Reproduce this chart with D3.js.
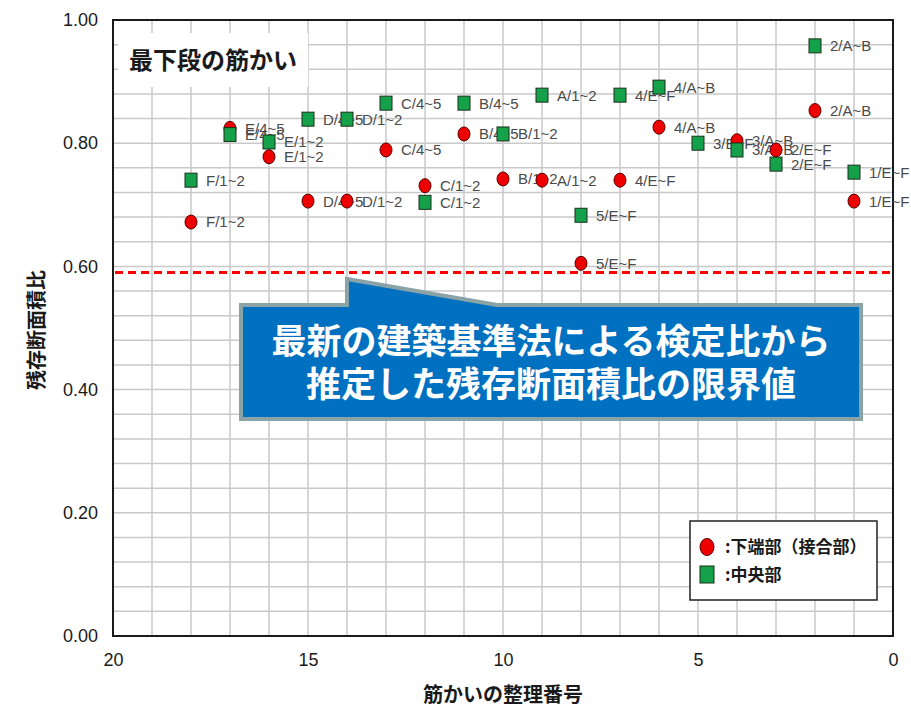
<!DOCTYPE html>
<html><head><meta charset="utf-8">
<script src="https://cdn.jsdelivr.net/npm/d3@7"></script>
<style>
html,body{margin:0;padding:0;background:#fff;}
svg{display:block;}
</style></head>
<body>
<svg id="chart" width="911" height="709"></svg>
<script>
// ---- data ----
const redX = [18,17,16,15,14,13,12,11,10,9,8,7,6,4,3,2,1];
const redValues = [0.672,0.824,0.778,0.706,0.706,0.789,0.731,0.815,0.742,0.740,0.605,0.740,0.826,0.804,0.789,0.853,0.706];
const redLabels = ["F/1~2","E/4~5","E/1~2","D/4~5","D/1~2","C/4~5","C/1~2","B/4~5","B/1~2","A/1~2","5/E~F","4/E~F","4/A~B","3/A~B","2/E~F","2/A~B","1/E~F"];
const greenX = [18,17,16,15,14,13,12,11,10,9,8,7,6,5,4,3,2,1];
const greenValues = [0.740,0.814,0.802,0.839,0.839,0.865,0.704,0.865,0.815,0.878,0.683,0.878,0.891,0.800,0.789,0.766,0.958,0.753];
const greenLabels = ["F/1~2","E/4~5","E/1~2","D/4~5","D/1~2","C/4~5","C/1~2","B/4~5","B/1~2","A/1~2","5/E~F","4/E~F","4/A~B","3/E~F","3/A~B","2/E~F","2/A~B","1/E~F"];
const yTicks = [0,0.2,0.4,0.6,0.8,1.0];
const xTicks = [20,15,10,5,0];
const limitValue = 0.59;
const titleText = "最下段の筋かい";
const xTitle = "筋かいの整理番号";
const yTitle = "残存断面積比";
const calloutLines = ["最新の建築基準法による検定比から","推定した残存断面積比の限界値"];
const legendLabels = [":下端部（接合部）",":中央部"];

// ---- layout ----
const svg = d3.select("#chart");
const L = 113, R = 893, T = 20, B = 636;
const x = d3.scaleLinear().domain([20,0]).range([L,R]);
const y = d3.scaleLinear().domain([0,1]).range([B,T]);
const cjk = "'Noto Sans CJK JP','Noto Sans CJK SC',sans-serif";
const latin = "'Liberation Sans',Arial,sans-serif";

// grid
const g = svg.append("g");
g.selectAll("line.v").data(d3.range(1,20)).join("line")
  .attr("x1",d=>x(d)).attr("x2",d=>x(d)).attr("y1",T).attr("y2",B)
  .attr("stroke","#c9c9c9").attr("stroke-width",1.5);
g.selectAll("line.h").data(d3.range(1,25).map(i=>i*0.04)).join("line")
  .attr("x1",L).attr("x2",R).attr("y1",d=>y(d)).attr("y2",d=>y(d))
  .attr("stroke","#c9c9c9").attr("stroke-width",1.5);

// title box
svg.append("rect").attr("x",118).attr("y",33).attr("width",190).attr("height",54).attr("fill","#fff");
svg.append("text").attr("x",129).attr("y",69).text(titleText)
  .attr("font-family",cjk).attr("font-weight",700).attr("font-size",24).attr("fill","#1a1a1a");

// frame
svg.append("rect").attr("x",L).attr("y",T).attr("width",R-L).attr("height",B-T)
  .attr("fill","none").attr("stroke","#1a1a1a").attr("stroke-width",2);

// axes
const yAxis = svg.append("g").attr("transform",`translate(${L},0)`)
  .call(d3.axisLeft(y).tickValues(yTicks).tickFormat(d3.format(".2f")).tickSize(0).tickPadding(15));
yAxis.select(".domain").remove();
yAxis.selectAll("text").attr("font-family",latin).attr("font-size",18).attr("fill","#1a1a1a");
const xAxis = svg.append("g").attr("transform",`translate(0,${B})`)
  .call(d3.axisBottom(x).tickValues(xTicks).tickFormat(d3.format("d")).tickSize(0).tickPadding(17));
xAxis.select(".domain").remove();
xAxis.selectAll("text").attr("font-family",latin).attr("font-size",18).attr("fill","#1a1a1a");

svg.append("text").attr("transform",`translate(44,330) rotate(-90)`)
  .attr("text-anchor","middle").text(yTitle)
  .attr("font-family",cjk).attr("font-weight",700).attr("font-size",20).attr("fill","#1a1a1a");
svg.append("text").attr("x",(L+R)/2).attr("y",702).attr("text-anchor","middle").text(xTitle)
  .attr("font-family",cjk).attr("font-weight",700).attr("font-size",20).attr("fill","#1a1a1a");

// limit line
svg.append("line").attr("x1",L+2).attr("x2",R).attr("y1",y(limitValue)).attr("y2",y(limitValue))
  .attr("stroke","#ff0000").attr("stroke-width",3).attr("stroke-dasharray","8,5");

// points
const reds = redX.map((d,i)=>({x:d,v:redValues[i],l:redLabels[i]}));
const greens = greenX.map((d,i)=>({x:d,v:greenValues[i],l:greenLabels[i]}));
const lab = svg.append("g");
const pts = svg.append("g");
pts.selectAll("ellipse").data(reds).join("ellipse")
  .attr("cx",d=>x(d.x)).attr("cy",d=>y(d.v)).attr("rx",6).attr("ry",7)
  .attr("fill","#ee0000").attr("stroke","#5a0000").attr("stroke-width",1);
pts.selectAll("rect").data(greens).join("rect")
  .attr("x",d=>x(d.x)-6).attr("y",d=>y(d.v)-7).attr("width",12).attr("height",14)
  .attr("fill","#15a04a").attr("stroke","#1a2e1a").attr("stroke-width",1);
lab.selectAll("text.r").data(reds).join("text")
  .attr("x",d=>x(d.x)+15).attr("y",d=>y(d.v)).attr("dy","0.36em").text(d=>d.l)
  .attr("font-family",latin).attr("font-size",15).attr("fill","#4a4a4a");
lab.selectAll("text.g").data(greens).join("text")
  .attr("x",d=>x(d.x)+15).attr("y",d=>y(d.v)).attr("dy","0.36em").text(d=>d.l)
  .attr("font-family",latin).attr("font-size",15).attr("fill","#4a4a4a");

// callout
const cx0=241, cx1=861, cy0=305, cy1=419;
const path = `M${cx0},${cy0} L347,${cy0} L347,279 L497,${cy0} L${cx1},${cy0} L${cx1},${cy1} L${cx0},${cy1} Z`;
svg.append("path").attr("d",path).attr("fill","#0070c0").attr("stroke","#8aa3a6").attr("stroke-width",4).attr("stroke-linejoin","miter");
svg.selectAll("text.c").data(calloutLines).join("text")
  .attr("x",(cx0+cx1)/2).attr("y",(d,i)=>354+i*43).attr("text-anchor","middle").text(d=>d)
  .attr("font-family",cjk).attr("font-weight",700).attr("font-size",35).attr("fill","#fff");

// legend
svg.append("rect").attr("x",690).attr("y",521).attr("width",187).attr("height",79)
  .attr("fill","#fff").attr("stroke","#222").attr("stroke-width",1.5);
svg.append("ellipse").attr("cx",707).attr("cy",547).attr("rx",7).attr("ry",8.5)
  .attr("fill","#ee0000").attr("stroke","#5a0000").attr("stroke-width",1);
svg.append("rect").attr("x",700).attr("y",566).attr("width",14).attr("height",17)
  .attr("fill","#15a04a").attr("stroke","#1a2e1a").attr("stroke-width",1);
svg.selectAll("text.lg").data(legendLabels).join("text")
  .attr("x",725).attr("y",(d,i)=>547+i*28).attr("dy","0.36em").text(d=>d)
  .attr("font-family",cjk).attr("font-weight",700).attr("font-size",17).attr("fill","#1a1a1a");
</script>
</body></html>
